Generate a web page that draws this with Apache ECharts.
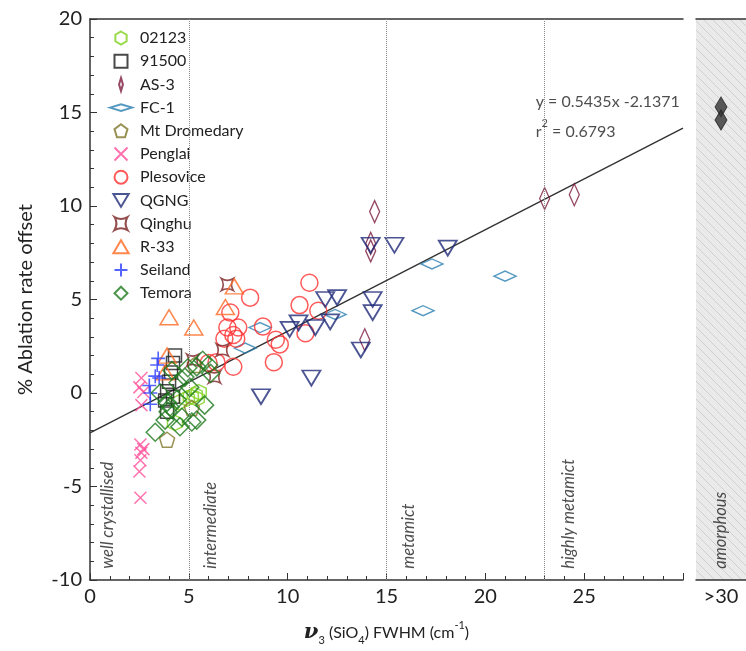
<!DOCTYPE html>
<html>
<head>
<meta charset="utf-8">
<script src="https://cdn.jsdelivr.net/npm/echarts@6/dist/echarts.min.js"></script>
<style>
  html, body { margin: 0; padding: 0; background: #fff; }
  #main { width: 746px; height: 651px; }
</style>
</head>
<body>
<div id="main"></div>
<script>
// data: [FWHM, % ablation rate offset]
const s02123 = [[4.3,-1.6],[4.5,-0.5],[4.9,-0.3],[5.1,-0.2],[5.3,-0.1],[5.4,-0.3],[5.5,0.05]];
const s91500 = [[4.3,2.0],[4.2,1.6],[4.1,1.1],[4.0,0.6],[3.9,0.1],[3.8,-0.4],[3.9,-1.0],[4.2,-0.2]];
const sAS3 = [[13.9,2.85],[14.2,8.0],[14.2,7.6],[14.4,9.7],[23.0,10.4],[24.5,10.6]];
const sFC1 = [[7.85,2.4],[8.6,3.5],[12.4,4.2],[16.85,4.4],[17.3,6.9],[21.0,6.25]];
const sMtDromedary = [[3.9,-2.5],[5.15,-0.8],[5.3,1.5]];
const sPenglai = [[2.6,0.8],[2.5,0.3],[2.7,0.05],[2.6,-0.65],[2.55,-2.75],[2.7,-3.0],[2.6,-3.2],[2.55,-3.6],[2.5,-4.2],[2.55,-5.6]];
const sPlesovice = [[6.0,1.6],[6.4,1.65],[6.8,2.9],[6.95,3.5],[7.1,4.3],[7.25,3.1],[7.25,1.4],[7.4,2.9],[7.5,3.5],[8.1,5.1],[8.75,3.55],[9.3,1.65],[9.4,2.85],[9.6,2.6],[10.6,4.7],[10.9,3.2],[11.1,5.9],[11.55,4.4]];
const sQGNG = [[8.65,-0.2],[10.1,3.4],[10.55,3.75],[11.2,0.8],[11.4,3.5],[11.9,5.0],[12.15,3.8],[12.5,5.1],[13.7,2.3],[14.3,5.0],[14.3,4.3],[14.2,7.9],[15.4,7.9],[18.1,7.75]];
const sQinghu = [[5.2,1.75],[6.3,0.85],[6.7,2.3],[6.95,5.8]];
const sR33 = [[3.8,1.1],[3.9,2.0],[4.0,4.05],[5.25,3.5],[6.85,4.6],[7.3,5.7]];
const sSeiland = [[3.45,1.85],[3.4,1.5],[3.3,0.9],[3.5,0.8],[3.0,0.4],[3.05,0.0],[3.05,-0.6]];
const sTemora = [[3.3,-2.1],[3.55,0.0],[3.8,-1.45],[3.9,-0.5],[3.95,-1.0],[4.05,-0.75],[4.15,1.2],[4.4,-0.35],[4.45,0.55],[4.55,-1.8],[4.65,-1.3],[4.8,0.85],[4.95,1.35],[5.05,0.3],[5.15,-1.55],[5.4,1.4],[5.4,-1.45],[5.7,1.75],[5.8,-0.65],[6.0,1.5],[6.1,1.05]];

// amorphous samples (FWHM > 30)
const amorphousCat = ['>30'];
const amorphousY = [15.3, 14.6];

// regression y = 0.5435x - 2.1371
const fitLine = [[0, -2.1371], [30, 14.1679]];
const fitText = ['y = 0.5435x -2.1371', 'r{sup|2} = 0.6793'];
const fitTextPos = [[22.55, 15.55], [22.55, 13.95]];

// structural zones
const zoneBounds = [5, 15, 23];
const zoneNames = ['well crystallised', 'intermediate', 'metamict', 'highly metamict'];
const zoneX = [0.9, 6.1, 16.1, 24.2];
const zoneY = -9.4;

const xTicks = [0, 5, 10, 15, 20, 25];
const yTicks = [-10, -5, 0, 5, 10, 15, 20];

const font = 'Lato';
const axisColor = '#333';

// hatch tile for the amorphous panel
const tile = document.createElement('canvas');
tile.width = 9; tile.height = 9;
(function () {
  const c = tile.getContext('2d');
  c.fillStyle = '#eaeaea';
  c.fillRect(0, 0, 9, 9);
  c.strokeStyle = '#d0d0d0';
  c.lineWidth = 1;
  c.beginPath();
  c.moveTo(-1, -1); c.lineTo(10, 10);
  c.moveTo(-1, 8); c.lineTo(1, 10);
  c.moveTo(8, -1); c.lineTo(10, 1);
  c.stroke();
})();

const P = {
  hex: 'path://M5,0L9.33,2.5L9.33,7.5L5,10L0.67,7.5L0.67,2.5Z',
  sq: 'path://M0,0L10,0L10,10L0,10Z',
  tall: 'path://M3,0L6,10L3,20L0,10Z',
  flat: 'path://M0,3L10,0L20,3L10,6Z',
  pent: 'path://M5,0L10,3.8L8.1,10L1.9,10L0,3.8Z',
  cross: 'path://M0,0L10,10M10,0L0,10',
  circ: 'circle',
  down: 'path://M0,0L10,0L5,8.5Z',
  star4: 'path://M0,0Q5,3 10,0Q7,5 10,10Q5,7 0,10Q3,5 0,0Z',
  up: 'path://M5,0L10,8.5L0,8.5Z',
  plus: 'path://M5,0L5,10M0,5L10,5',
  dia: 'path://M5,0L10,5L5,10L0,5Z'
};

function hollow(name, data, symbol, size, color, width) {
  return {
    name: name,
    type: 'scatter',
    xAxisIndex: 0, yAxisIndex: 0,
    data: data,
    symbol: symbol,
    symbolSize: size,
    itemStyle: { color: 'transparent', borderColor: color, borderWidth: width || 1.5 },
    emphasis: { disabled: true }
  };
}

const series = [
  hollow('02123', s02123, P.hex, 15, '#7fd11b'),
  hollow('91500', s91500, P.sq, 13, '#1a1a1a'),
  hollow('AS-3', sAS3, P.tall, [10, 22], '#7b1c3e'),
  hollow('FC-1', sFC1, P.flat, [22, 10], '#2a7fb2', 1.6),
  hollow('Mt Dromedary', sMtDromedary, P.pent, 15, '#807628'),
  hollow('Penglai', sPenglai, P.cross, 12, '#ff4f9a'),
  hollow('Plesovice', sPlesovice, P.circ, 17, '#ff3030'),
  hollow('QGNG', sQGNG, P.down, [18, 15], '#1f2a78', 1.8),
  hollow('Qinghu', sQinghu, P.star4, 12, '#7a2222', 1.6),
  hollow('R-33', sR33, P.up, [18, 15], '#ff6820'),
  hollow('Seiland', sSeiland, P.plus, 14, '#2a3cff', 1.6),
  hollow('Temora', sTemora, P.dia, 18, '#1e7a1e'),
  {
    name: 'fit', type: 'line', xAxisIndex: 0, yAxisIndex: 0,
    data: fitLine, symbol: 'none', silent: true, z: 1,
    lineStyle: { color: '#333', width: 1.4 },
    markLine: {
      silent: true, symbol: 'none',
      label: { show: false },
      lineStyle: { type: 'dotted', color: '#888', width: 1 },
      data: zoneBounds.map(v => ({ xAxis: v }))
    }
  },
  {
    name: 'zones', type: 'scatter', xAxisIndex: 0, yAxisIndex: 0,
    silent: true, symbolSize: 0,
    data: zoneNames.map((n, i) => ({ value: [zoneX[i], zoneY], name: n })),
    label: {
      show: true, formatter: p => p.name, rotate: 90,
      position: [0, 0], align: 'left', verticalAlign: 'middle',
      fontFamily: font, fontStyle: 'italic', fontSize: 16.5, color: '#222'
    }
  },
  {
    name: 'eq', type: 'scatter', xAxisIndex: 0, yAxisIndex: 0,
    silent: true, symbolSize: 0,
    data: fitText.map((t, i) => ({ value: fitTextPos[i], name: t })),
    label: {
      show: true, formatter: p => p.name, position: [0, 0],
      align: 'left', verticalAlign: 'middle',
      fontFamily: font, fontSize: 16, color: '#222',
      rich: { sup: { fontFamily: font, fontSize: 11, verticalAlign: 'top', lineHeight: 28, color: '#222' } }
    }
  },
  {
    name: 'amorphous', type: 'scatter', xAxisIndex: 2, yAxisIndex: 1,
    data: amorphousY.map(v => [amorphousCat[0], v]),
    symbol: 'diamond', symbolSize: [12, 20],
    itemStyle: { color: '#333', borderColor: '#222', borderWidth: 1 },
    emphasis: { disabled: true }
  },
  {
    name: 'amorphousLabel', type: 'scatter', xAxisIndex: 2, yAxisIndex: 1,
    silent: true, symbolSize: 0,
    data: [{ value: [amorphousCat[0], zoneY], name: 'amorphous' }],
    label: {
      show: true, formatter: p => p.name, rotate: 90,
      position: [0, 0], align: 'left', verticalAlign: 'middle',
      fontFamily: font, fontStyle: 'italic', fontSize: 16.5, color: '#222'
    }
  }
];

const legendNames = ['02123', '91500', 'AS-3', 'FC-1', 'Mt Dromedary', 'Penglai', 'Plesovice', 'QGNG', 'Qinghu', 'R-33', 'Seiland', 'Temora'];
const legendIcons = [P.hex, P.sq, P.tall, P.flat, P.pent, P.cross, P.circ, P.down, P.star4, P.up, P.plus, P.dia];

const chart = echarts.init(document.getElementById('main'), null, { renderer: 'canvas' });
chart.setOption({
  animation: false,
  backgroundColor: '#fff',
  textStyle: { fontFamily: font },
  legend: {
    orient: 'vertical', left: 104, top: 25,
    itemWidth: 22, itemHeight: 13, itemGap: 7.2, symbolKeepAspect: true,
    textStyle: { fontFamily: font, fontSize: 16, lineHeight: 16, color: '#222', padding: [0, 0, 0, 3] },
    data: legendNames.map((n, i) => ({ name: n, icon: legendIcons[i] }))
  },
  grid: [
    { left: 90, right: 63, top: 19, bottom: 71 },
    {
      left: 696, right: 0, top: 19, bottom: 71, show: true, borderWidth: 0,
      backgroundColor: { image: tile, repeat: 'repeat' }
    }
  ],
  xAxis: [
    {
      gridIndex: 0, type: 'value', min: 0, max: 30, interval: 5,
      name: '{nu|ν}{sub|3} (SiO{sub|4}) FWHM (cm{sup|-1})',
      nameLocation: 'middle', nameGap: 40,
      nameTextStyle: {
        fontFamily: font, fontSize: 16, color: '#222',
        rich: {
          nu: { fontFamily: 'DejaVu Serif', fontStyle: 'italic', fontWeight: 'bold', fontSize: 21, color: '#222' },
          sub: { fontSize: 11, verticalAlign: 'bottom', lineHeight: 26, color: '#222' },
          sup: { fontSize: 11, verticalAlign: 'top', lineHeight: 26, color: '#222' }
        }
      },
      axisLine: { onZero: false, lineStyle: { color: axisColor, width: 1.5 } },
      axisTick: { inside: true, length: 7, lineStyle: { color: axisColor } },
      minorTick: { show: true, splitNumber: 5, length: 4, lineStyle: { color: axisColor } },
      splitLine: { show: false },
      axisLabel: {
        fontFamily: font, fontSize: 20, color: '#222', margin: 7,
        formatter: v => (xTicks.indexOf(v) >= 0 ? String(v) : '')
      }
    },
    {
      gridIndex: 0, type: 'value', min: 0, max: 30, position: 'top',
      axisLine: { show: true, onZero: false, lineStyle: { color: axisColor, width: 1.5 } },
      axisTick: { show: false }, axisLabel: { show: false }, splitLine: { show: false }
    },
    {
      gridIndex: 1, type: 'category', data: amorphousCat,
      axisLine: { onZero: false, lineStyle: { color: axisColor, width: 1.5 } },
      axisTick: { show: false },
      axisLabel: { fontFamily: font, fontSize: 20, color: '#222', margin: 7 }
    },
    {
      gridIndex: 1, type: 'category', data: amorphousCat, position: 'top',
      axisLine: { show: true, onZero: false, lineStyle: { color: axisColor, width: 1.5 } },
      axisTick: { show: false }, axisLabel: { show: false }
    }
  ],
  yAxis: [
    {
      gridIndex: 0, type: 'value', min: -10, max: 20, interval: 5,
      name: '% Ablation rate offset', nameLocation: 'middle', nameGap: 54,
      nameTextStyle: { fontFamily: font, fontSize: 20, color: '#222' },
      axisLine: { onZero: false, lineStyle: { color: axisColor, width: 1.5 } },
      axisTick: { inside: true, length: 7, lineStyle: { color: axisColor } },
      minorTick: { show: true, splitNumber: 5, length: 4, lineStyle: { color: axisColor } },
      splitLine: { show: false },
      axisLabel: {
        fontFamily: font, fontSize: 20, color: '#222', margin: 8,
        formatter: v => (yTicks.indexOf(v) >= 0 ? String(v) : '')
      }
    },
    {
      gridIndex: 1, type: 'value', min: -10, max: 20, show: false
    }
  ],
  series: series
});
</script>
</body>
</html>
